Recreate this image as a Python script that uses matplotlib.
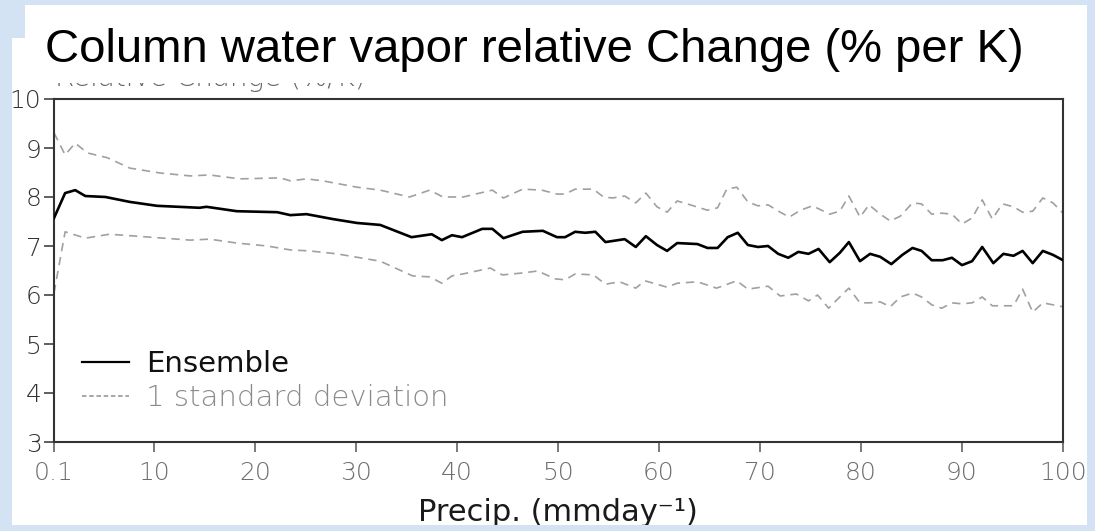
import matplotlib
matplotlib.use('Agg')
import matplotlib.pyplot as plt
from matplotlib.patches import Rectangle
from matplotlib.lines import Line2D
from matplotlib.transforms import Bbox, TransformedBbox

# ---------------- data ----------------
ens_x = [0.1, 1.2, 2.2, 3.2, 5.2, 7.6, 10.3, 14.5, 15.2, 18.2, 22.2, 23.5, 25.1, 27.7, 30.1,
         32.4, 35.5, 37.5, 38.5, 39.5, 40.5, 42.5, 43.5, 44.6, 46.5, 48.5, 49.9, 50.7, 51.7,
         52.7, 53.7, 54.7, 56.6, 57.7, 58.7, 59.8, 60.8, 61.8, 63.8, 64.8, 65.8, 66.8, 67.8,
         68.8, 69.8, 70.8, 71.8, 72.8, 73.8, 74.8, 75.8, 76.9, 77.9, 78.8, 79.9, 80.9, 81.9,
         83.0, 84.1, 85.1, 86.0, 87.0, 88.1, 89.0, 90.0, 91.0, 92.0, 93.1, 94.1, 95.1, 96.0,
         97.0, 98.0, 99.0, 100.0]
ens_y = [7.57, 8.08, 8.14, 8.02, 8.00, 7.90, 7.82, 7.78, 7.80, 7.71, 7.69, 7.63, 7.65, 7.55, 7.47,
         7.43, 7.18, 7.24, 7.12, 7.22, 7.18, 7.35, 7.35, 7.16, 7.29, 7.31, 7.18, 7.18, 7.29,
         7.27, 7.29, 7.08, 7.14, 6.98, 7.20, 7.02, 6.90, 7.06, 7.04, 6.96, 6.96, 7.18, 7.27,
         7.02, 6.98, 7.00, 6.84, 6.76, 6.88, 6.84, 6.94, 6.67, 6.86, 7.08, 6.69, 6.84, 6.78,
         6.63, 6.82, 6.96, 6.90, 6.71, 6.71, 6.76, 6.61, 6.69, 6.98, 6.65, 6.84, 6.80, 6.90,
         6.65, 6.90, 6.82, 6.71]

up_x = [0.1, 1.2, 2.2, 3.4, 5.4, 7.6, 10.6, 13.6, 15.5, 18.5, 22.5, 23.5, 25.1, 26.7, 30.1,
        32.4, 35.3, 37.3, 38.6, 40.6, 43.5, 44.6, 46.5, 48.4, 49.9, 50.7, 51.7, 53.5, 54.5,
        55.4, 56.6, 57.7, 58.7, 59.8, 60.8, 61.8, 63.1, 64.8, 65.8, 66.7, 67.7, 68.8, 69.8,
        70.8, 72.0, 72.9, 74.0, 75.2, 76.9, 77.9, 78.8, 79.9, 80.8, 81.9, 82.9, 83.9, 85.1,
        86.0, 87.0, 88.0, 89.0, 90.0, 91.0, 92.0, 93.0, 94.0, 95.1, 96.0, 97.0, 98.0, 99.0,
        100.0]
up_y = [9.31, 8.86, 9.10, 8.90, 8.80, 8.59, 8.49, 8.43, 8.45, 8.37, 8.39, 8.33, 8.37, 8.33, 8.20,
        8.14, 8.00, 8.14, 8.00, 8.00, 8.14, 7.98, 8.16, 8.14, 8.06, 8.06, 8.16, 8.16, 8.00,
        7.98, 8.02, 7.88, 8.08, 7.80, 7.69, 7.92, 7.84, 7.73, 7.78, 8.16, 8.20, 7.90, 7.82,
        7.84, 7.69, 7.59, 7.73, 7.82, 7.65, 7.71, 8.02, 7.59, 7.84, 7.65, 7.51, 7.61, 7.88,
        7.86, 7.65, 7.67, 7.65, 7.45, 7.57, 7.94, 7.55, 7.86, 7.80, 7.69, 7.71, 7.98, 7.88,
        7.67]

lo_x = [0.1, 1.2, 3.2, 5.6, 8.3, 13.6, 15.5, 18.2, 21.2, 23.5, 25.4, 28.1, 32.4, 35.6, 37.3,
        38.5, 39.5, 40.6, 43.3, 44.5, 46.5, 48.0, 49.7, 50.7, 51.7, 53.5, 54.7, 56.1, 57.7,
        58.6, 60.8, 61.8, 63.8, 65.7, 67.7, 68.8, 70.8, 72.0, 73.6, 74.8, 75.7, 76.8, 77.9,
        78.8, 79.9, 80.9, 81.9, 82.9, 83.9, 85.1, 86.0, 87.0, 88.0, 89.0, 90.0, 91.0, 92.0,
        93.0, 94.0, 95.1, 96.0, 97.0, 98.0, 100.0]
lo_y = [6.04, 7.29, 7.16, 7.24, 7.20, 7.12, 7.14, 7.06, 7.00, 6.92, 6.90, 6.84, 6.69, 6.39, 6.37,
        6.24, 6.39, 6.43, 6.55, 6.41, 6.45, 6.49, 6.33, 6.31, 6.43, 6.41, 6.22, 6.27, 6.14,
        6.29, 6.16, 6.24, 6.27, 6.14, 6.29, 6.12, 6.18, 5.98, 6.02, 5.88, 6.00, 5.73, 5.96,
        6.14, 5.84, 5.84, 5.86, 5.76, 5.96, 6.04, 5.96, 5.80, 5.73, 5.84, 5.82, 5.84, 5.96,
        5.78, 5.78, 5.78, 6.12, 5.65, 5.84, 5.76]

x_ticks = [0.1, 10, 20, 30, 40, 50, 60, 70, 80, 90, 100]
x_tick_labels = ['0.1', '10', '20', '30', '40', '50', '60', '70', '80', '90', '100']
y_ticks = [3, 4, 5, 6, 7, 8, 9, 10]

title_text = 'Column water vapor relative Change (% per K)'
hidden_text = 'Relative Change (%/K)'
x_label = 'Precip. (mmday\u207b\u00b9)'
legend_labels = ['Ensemble', '1 standard deviation']

# ---------------- figure ----------------
W, H = 1095, 531
BG = '#d3e3f3'
fig = plt.figure(figsize=(W / 100, H / 100), dpi=100)
fig.patch.set_facecolor(BG)


def fx(px):
    return px / W


def fy(py):
    return 1 - py / H


FONT = ['DejaVu Sans', 'Noto Sans']
WT = 'light'

# white slide panels
fig.patches.append(Rectangle((fx(12), fy(525)), fx(1087) - fx(12), fy(38) - fy(525),
                             transform=fig.transFigure, facecolor='white', edgecolor='none',
                             zorder=-1))
fig.patches.append(Rectangle((fx(25), fy(83)), fx(1087) - fx(25), fy(5) - fy(83),
                             transform=fig.transFigure, facecolor='white', edgecolor='none',
                             zorder=-1))
# subtitle of the original figure, hidden behind the slide title (only its bottom shows)
ht = fig.text(fx(55), fy(85.5), hidden_text, fontsize=20, color='#666666', family=FONT,
              weight=WT, va='baseline', ha='left', zorder=1)
ht.set_clip_box(TransformedBbox(Bbox([[0, 0], [1, fy(83)]]), fig.transFigure))
ht.set_clip_on(True)

fig.text(fx(45), fy(62), title_text, fontsize=34, color='black', family='Liberation Sans',
         va='baseline', ha='left', zorder=3)

ax = fig.add_axes([fx(54), fy(442), fx(1063) - fx(54), fy(99) - fy(442)])
ax.set_facecolor('white')

ax.plot(up_x, up_y, color='#a0a0a0', lw=1.2, ls=(0, (5, 3.5)), zorder=2)
ax.plot(lo_x, lo_y, color='#a0a0a0', lw=1.2, ls=(0, (5, 3.5)), zorder=2)
ax.plot(ens_x, ens_y, color='black', lw=1.9, zorder=3)

ax.set_xlim(0.1, 100)
ax.set_ylim(3, 10)
ax.set_xticks(x_ticks)
ax.set_xticklabels(x_tick_labels, family=FONT, weight=WT, fontsize=18, color='#6e6e6e')
ax.set_yticks(y_ticks)
ax.set_yticklabels([str(v) for v in y_ticks], family=FONT, weight=WT, fontsize=18,
                   color='#333333')
ax.tick_params(axis='x', direction='out', length=7, width=1.1, color='#555555', pad=7)
ax.tick_params(axis='y', direction='out', length=7, width=1.1, color='#333333', pad=2)
for sp in ax.spines.values():
    sp.set_linewidth(1.5)
    sp.set_color('#333333')

handles = [Line2D([], [], color='black', lw=1.6),
           Line2D([], [], color='#a0a0a0', lw=1.3, ls=(0, (2.5, 1.5)))]
leg = ax.legend(handles, legend_labels, loc='upper left',
                bbox_to_anchor=((82 - 54) / 1009, (442 - 350) / 343),
                frameon=False, prop={'family': FONT, 'size': 21, 'weight': WT},
                handlelength=1.6, handletextpad=0.6, labelspacing=0.2,
                borderaxespad=0, borderpad=0)
leg.get_texts()[0].set_color('#111111')
leg.get_texts()[0].set_fontweight('normal')
leg.get_texts()[1].set_color('#8a8a8a')

fig.text(fx(558), fy(521), x_label, fontsize=22, color='#1a1a1a', family=FONT,
         weight='normal', ha='center', va='baseline')

# slide background covers where text overflows the white panel
fig.patches.append(Rectangle((fx(1087), 0), 1 - fx(1087), 1, transform=fig.transFigure,
                             facecolor=BG, edgecolor='none', zorder=10))
fig.patches.append(Rectangle((0, 0), 1, fy(525), transform=fig.transFigure,
                             facecolor=BG, edgecolor='none', zorder=10))

fig.savefig('out.png', dpi=100, facecolor=BG)
